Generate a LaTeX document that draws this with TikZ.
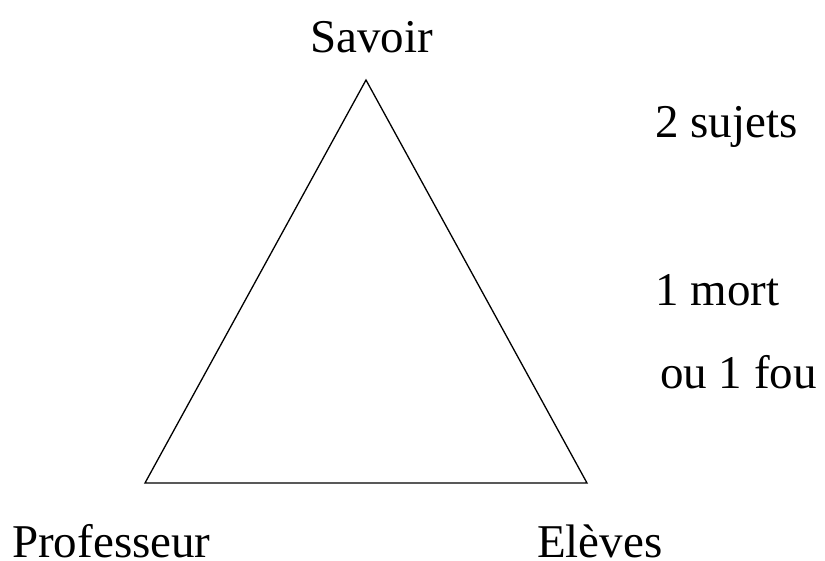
\documentclass[tikz,border=0pt]{standalone}
\usepackage{fontspec}
\setmainfont{Liberation Serif}
\begin{document}
\begin{tikzpicture}[x=1pt,y=-1pt,
  lbl/.style={inner sep=0pt,anchor=base west,font=\fontsize{47}{56}\selectfont},
  tri/.style={draw=black,line width=1.3pt,line join=miter}]
\useasboundingbox (0,0) rectangle (825,560);
\coordinate (S) at (366,80);
\coordinate (P) at (145,483);
\coordinate (E) at (587,483);
\draw[tri] (S) -- (P) -- (E) -- cycle;
\node[lbl] (savoir) at (310,52) {Savoir};
\node[lbl] (prof) at (12,557) {Professeur};
\node[lbl] (eleves) at (537,557) {Elèves};
\node[lbl] (sujets) at (655,137) {2 sujets};
\node[lbl] (mort) at (655,305) {1 mort};
\node[lbl] (fou) at (660,388) {ou 1 fou};
\end{tikzpicture}
\end{document}
